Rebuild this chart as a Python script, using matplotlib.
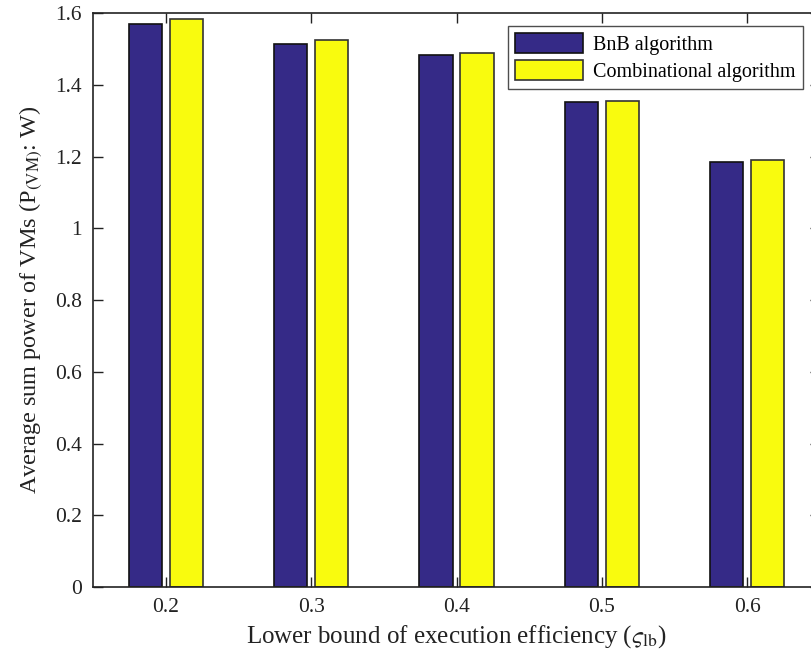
import matplotlib
matplotlib.use('Agg')
import matplotlib.pyplot as plt
import numpy as np

# data
categories = ['0.2', '0.3', '0.4', '0.5', '0.6']
bnb = [1.570, 1.514, 1.482, 1.351, 1.186]
combinational = [1.584, 1.525, 1.489, 1.356, 1.189]

plt.rcParams['font.family'] = ['Liberation Serif', 'DejaVu Serif']
plt.rcParams['mathtext.fontset'] = 'stix'

fig = plt.figure(figsize=(8.11, 6.62), dpi=100)
ax = fig.add_axes([0.1147, 0.1133, 0.8964, 0.867])

x = np.arange(1, len(categories) + 1)
w = 0.228
ax.bar(x - 0.141, bnb, w, color='#352A87', edgecolor='#111111', linewidth=1.2,
       label='BnB algorithm')
ax.bar(x + 0.141, combinational, w, color='#F9FB0E', edgecolor='#333333', linewidth=1.2,
       label='Combinational algorithm')

ax.set_xlim(0.5, 5.5)
ax.set_ylim(0, 1.6)
ax.set_xticks(x)
ax.set_xticklabels(categories)
ax.set_yticks([0, 0.2, 0.4, 0.6, 0.8, 1, 1.2, 1.4, 1.6])
ax.set_yticklabels(['0', '0.2', '0.4', '0.6', '0.8', '1', '1.2', '1.4', '1.6'])
ax.tick_params(direction='in', top=True, right=True, length=7, width=1,
               labelsize=15.5, colors='#222222', pad=8)
for s in ax.spines.values():
    s.set_linewidth(1.2)
    s.set_color('#222222')

ax.set_xlabel(r'Lower bound of execution efficiency ($\varsigma_{\mathrm{lb}}$)',
              fontsize=18, color='#222222', labelpad=4)
ax.set_ylabel(r'Average sum power of VMs (P$_{\mathrm{(VM)}}$: W)',
              fontsize=17.5, color='#222222', labelpad=8)

leg = ax.legend(loc='upper right', bbox_to_anchor=(0.9845, 0.988), fontsize=14.5,
                frameon=True, fancybox=False, edgecolor='#222222',
                handlelength=3.4, handleheight=1.15, borderpad=0.35,
                labelspacing=0.25, handletextpad=0.5, borderaxespad=0.3)
leg.get_frame().set_linewidth(1.0)

fig.savefig('out.png', dpi=100)
